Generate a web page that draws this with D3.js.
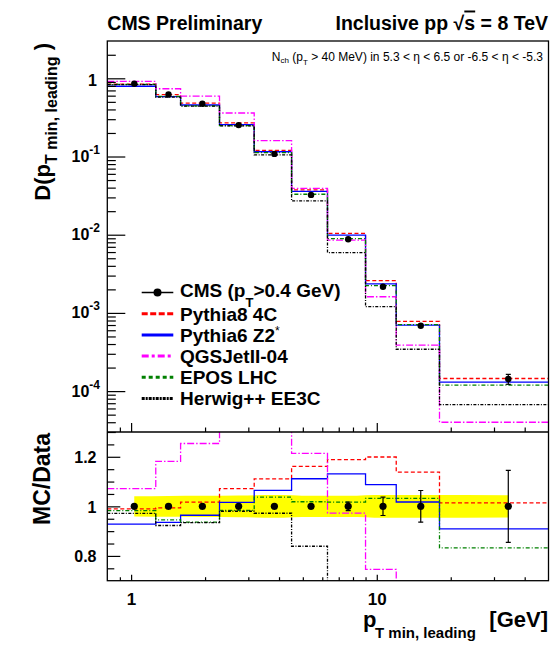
<!DOCTYPE html>
<html>
<head>
<meta charset="utf-8">
<script src="https://cdn.jsdelivr.net/npm/d3@7"></script>
<style>
  body { margin: 0; background: #fff; }
  svg { display: block; font-family: "Liberation Sans", Arial, sans-serif; font-weight: bold; }
</style>
</head>
<body>
<div id="chart"></div>
<script>
// bin edges of p_T min, leading [GeV]
const binEdges = [0.8, 1.26, 1.59, 2.29, 3.17, 4.5, 6.3, 9.0, 12.0, 18.0, 50];
// CMS data points
const dataX = [1.03, 1.42, 1.95, 2.74, 3.83, 5.40, 7.65, 10.6, 15.1, 34.3];
const dataY = [0.853, 0.622, 0.473, 0.252, 0.108, 0.0323, 0.00875, 0.00216, 6.86e-4, 1.43e-4];
const dataRelErr = [0.004, 0.004, 0.005, 0.006, 0.008, 0.010, 0.017, 0.037, 0.064, 0.145];
const systRelErr = [0.041, 0.042, 0.043, 0.044, 0.046, 0.043, 0.043, 0.046, 0.046, 0.045];

// MC predictions, one value per bin
const pythia8 = [0.844, 0.618, 0.481, 0.270, 0.120, 0.0375, 0.0104, 0.00259, 7.81e-4, 1.45e-4];
const pythia6 = [0.792, 0.582, 0.456, 0.256, 0.115, 0.0359, 0.00990, 0.00235, 6.98e-4, 1.30e-4];
const qgsjet = [0.914, 0.735, 0.593, 0.360, 0.160, 0.0392, 0.00851, 0.00161, 3.88e-4, 4.0e-5];
const epos = [0.838, 0.588, 0.443, 0.248, 0.112, 0.0329, 0.00890, 0.00223, 7.08e-4, 1.19e-4];
const herwig = [0.829, 0.574, 0.442, 0.247, 0.105, 0.0271, 0.00591, 0.00120, 3.43e-4, 6.72e-5];

const modelNames = ["Pythia8 4C", "Pythia6 Z2*", "QGSJetII-04", "EPOS LHC", "Herwig++ EE3C"];
const modelValues = [pythia8, pythia6, qgsjet, epos, herwig];

// axis ticks
const decadeTicks = [1, 1e-1, 1e-2, 1e-3, 1e-4];
const ratioTicks = [0.8, 1, 1.2];
const ratioMinor = [0.75, 0.85, 0.9, 0.95, 1.05, 1.1, 1.15, 1.25];
const xMajor = [1, 10];
const xMinor = [0.9, 2, 3, 4, 5, 6, 7, 8, 9, 20, 30, 40];

// line styles for the models
const styles = [
  { color: "#ff0000", dash: "4,2.5", legDash: "6,2.5" },
  { color: "#0000ff", dash: null, legDash: null },
  { color: "#ff00ff", dash: "7,2,1.5,2", legDash: "7,3,3,3" },
  { color: "#008000", dash: "4,2,1,2", legDash: "4,3" },
  { color: "#000000", dash: "3,1.5,1,1.5", legDash: "3,1,2,1" }
];

const W = 551, H = 645;
const fr = { left: 107.3, right: 548.5, top: 41, mid: 432, bottom: 580.7 };

const svg = d3.select("#chart").append("svg").attr("width", W).attr("height", H);

const x = d3.scaleLog().domain([0.8, 50]).range([fr.left, fr.right]);
const y = d3.scaleLog().domain([3e-5, 3]).range([fr.mid, fr.top]);
const yr = d3.scaleLinear().domain([0.7, 1.3]).range([fr.bottom, fr.mid]);

const defs = svg.append("defs");
defs.append("clipPath").attr("id", "clipTop").append("rect")
  .attr("x", fr.left).attr("y", fr.top).attr("width", fr.right - fr.left).attr("height", fr.mid - fr.top);
defs.append("clipPath").attr("id", "clipBot").append("rect")
  .attr("x", fr.left).attr("y", fr.mid).attr("width", fr.right - fr.left).attr("height", fr.bottom - fr.mid);

function stepPoints(vals) {
  const pts = [];
  vals.forEach((v, i) => { pts.push([binEdges[i], v]); pts.push([binEdges[i + 1], v]); });
  return pts;
}

// ---------- upper panel ----------
const upper = svg.append("g").attr("clip-path", "url(#clipTop)");
const lineTop = d3.line().x(d => x(d[0])).y(d => y(d[1]));
modelValues.forEach((vals, k) => {
  upper.append("path")
    .attr("d", lineTop(stepPoints(vals)))
    .attr("fill", "none")
    .attr("stroke", styles[k].color)
    .attr("stroke-width", 1.3)
    .attr("stroke-dasharray", styles[k].dash);
});

dataY.forEach((v, i) => {
  const y0 = y(v * (1 - dataRelErr[i])), y1 = y(v * (1 + dataRelErr[i]));
  upper.append("line").attr("x1", x(dataX[i])).attr("x2", x(dataX[i]))
    .attr("y1", y0).attr("y2", y1).attr("stroke", "#000").attr("stroke-width", 1.2);
  if (y0 - y1 > 7) {
    [y0, y1].forEach(yy => upper.append("line")
      .attr("x1", x(dataX[i]) - 2.5).attr("x2", x(dataX[i]) + 2.5)
      .attr("y1", yy).attr("y2", yy).attr("stroke", "#000").attr("stroke-width", 1.2));
  }
});
upper.selectAll("circle.pt").data(dataY).join("circle")
  .attr("cx", (d, i) => x(dataX[i])).attr("cy", d => y(d)).attr("r", 3.2).attr("fill", "#000");

// ---------- lower panel ----------
const lower = svg.append("g").attr("clip-path", "url(#clipBot)");
const band = d3.area()
  .x((d, i) => x(dataX[i]))
  .y0(d => yr(1 - d)).y1(d => yr(1 + d))
  .curve(d3.curveMonotoneX);
lower.append("path").attr("d", band(systRelErr)).attr("fill", "#ffff00");

const lineBot = d3.line().x(d => x(d[0])).y(d => yr(d[1]));
modelValues.forEach((vals, k) => {
  const ratios = vals.map((v, i) => v / dataY[i]);
  lower.append("path")
    .attr("d", lineBot(stepPoints(ratios)))
    .attr("fill", "none")
    .attr("stroke", styles[k].color)
    .attr("stroke-width", 1.3)
    .attr("stroke-dasharray", styles[k].dash);
});

dataRelErr.forEach((e, i) => {
  const y0 = yr(1 - e), y1 = yr(1 + e);
  lower.append("line").attr("x1", x(dataX[i])).attr("x2", x(dataX[i]))
    .attr("y1", y0).attr("y2", y1).attr("stroke", "#000").attr("stroke-width", 1.2);
  if (y0 - y1 > 7) {
    [y0, y1].forEach(yy => lower.append("line")
      .attr("x1", x(dataX[i]) - 2.5).attr("x2", x(dataX[i]) + 2.5)
      .attr("y1", yy).attr("y2", yy).attr("stroke", "#000").attr("stroke-width", 1.2));
  }
});
lower.selectAll("circle.pt").data(dataY).join("circle")
  .attr("cx", (d, i) => x(dataX[i])).attr("cy", yr(1)).attr("r", 3.6).attr("fill", "#000");

// ---------- axes ----------
function styleAxis(g) {
  g.select(".domain").remove();
  g.selectAll("line").attr("stroke", "#000").attr("stroke-width", 1.2);
  g.attr("font-family", null).attr("font-size", null);
}

// upper y axis: decade ticks and minor ticks
const yMinor = [];
for (let e = -5; e <= 0; e++) {
  for (let k = 2; k <= 9; k++) {
    const v = k * Math.pow(10, e);
    if (v > 3e-5 && v < 3) yMinor.push(v);
  }
}
svg.append("g").attr("transform", `translate(${fr.left},0)`)
  .call(d3.axisLeft(y).tickValues(decadeTicks).tickSize(-18).tickFormat(""))
  .call(styleAxis);
svg.append("g").attr("transform", `translate(${fr.left},0)`)
  .call(d3.axisLeft(y).tickValues(yMinor).tickSize(-8.5).tickFormat(""))
  .call(styleAxis);

const decLab = svg.append("g").attr("font-size", 16).attr("text-anchor", "end");
decadeTicks.forEach(v => {
  const e = Math.round(Math.log10(v));
  if (e === 0) {
    decLab.append("text").attr("x", 97).attr("y", y(v) + 8).text("1");
  } else {
    const t = decLab.append("text").attr("x", 100).attr("y", y(v) + 5.5);
    t.append("tspan").text("10");
    t.append("tspan").attr("font-size", 12).attr("dy", -8).text(String(e));
  }
});

// upper x axis (ticks only)
svg.append("g").attr("transform", `translate(0,${fr.mid})`)
  .call(d3.axisBottom(x).tickValues(xMajor).tickSize(-9).tickFormat(""))
  .call(styleAxis);
svg.append("g").attr("transform", `translate(0,${fr.mid})`)
  .call(d3.axisBottom(x).tickValues(xMinor).tickSize(-4.5).tickFormat(""))
  .call(styleAxis);

// lower y axis
svg.append("g").attr("transform", `translate(${fr.left},0)`)
  .call(d3.axisLeft(yr).tickValues(ratioTicks).tickSize(-13).tickPadding(10.8).tickFormat(d3.format("")))
  .call(styleAxis)
  .call(g => g.selectAll("text").attr("font-size", 16).attr("dy", "0.36em"));
svg.append("g").attr("transform", `translate(${fr.left},0)`)
  .call(d3.axisLeft(yr).tickValues(ratioMinor).tickSize(-7).tickFormat(""))
  .call(styleAxis);

// lower x axis
svg.append("g").attr("transform", `translate(0,${fr.bottom})`)
  .call(d3.axisBottom(x).tickValues(xMajor).tickSize(-6).tickPadding(12).tickFormat(d3.format("")))
  .call(styleAxis)
  .call(g => g.selectAll("text").attr("font-size", 17));
svg.append("g").attr("transform", `translate(0,${fr.bottom})`)
  .call(d3.axisBottom(x).tickValues(xMinor).tickSize(-3.5).tickFormat(""))
  .call(styleAxis);

// frames
svg.append("rect").attr("x", fr.left).attr("y", fr.top)
  .attr("width", fr.right - fr.left).attr("height", fr.bottom - fr.top)
  .attr("fill", "none").attr("stroke", "#000").attr("stroke-width", 1.3);
svg.append("line").attr("x1", fr.left).attr("x2", fr.right).attr("y1", fr.mid).attr("y2", fr.mid)
  .attr("stroke", "#000").attr("stroke-width", 1.3);

// ---------- titles ----------
svg.append("text").attr("x", fr.left).attr("y", 29.5).attr("font-size", 19.5).text("CMS Preliminary");
const tt = svg.append("text").attr("x", 548).attr("y", 29.5).attr("font-size", 19.5).attr("text-anchor", "end");
tt.append("tspan").text("Inclusive pp \u221A");
tt.append("tspan").attr("text-decoration", "overline").text("s");
tt.append("tspan").text(" = 8 TeV");

const sel = svg.append("text").attr("x", 543).attr("y", 61).attr("font-size", 12)
  .attr("font-weight", "normal").attr("text-anchor", "end");
sel.append("tspan").text("N");
sel.append("tspan").attr("font-size", 8).attr("dy", 2).text("ch");
sel.append("tspan").attr("dy", -2).text(" (p");
sel.append("tspan").attr("font-size", 8).attr("dy", 4).text("T");
sel.append("tspan").attr("dy", -4).text(" > 40 MeV) in 5.3 < \u03B7 < 6.5 or -6.5 < \u03B7 < -5.3");

// axis titles
const yt = svg.append("text").attr("transform", "translate(50,43) rotate(-90)")
  .attr("text-anchor", "end").attr("font-size", 22);
yt.append("tspan").text("D(p");
yt.append("tspan").attr("font-size", 16).attr("dy", 7).text("T min, leading");
yt.append("tspan").attr("dy", -7).text(" )");

svg.append("text").attr("transform", "translate(50,433) rotate(-90)")
  .attr("text-anchor", "end").attr("font-size", 23).text("MC/Data");

svg.append("text").attr("x", 363).attr("y", 627).attr("font-size", 22).text("p");
svg.append("text").attr("x", 375).attr("y", 638).attr("font-size", 15).text("T min, leading");
svg.append("text").attr("x", 548).attr("y", 627).attr("font-size", 22).attr("text-anchor", "end").text("[GeV]");

// ---------- legend ----------
const leg = svg.append("g");
const legX0 = 141.7, legX1 = 173.3, legText = 180, legTop = 292.5, legStep = 21.2;
leg.append("line").attr("x1", legX0).attr("x2", legX1).attr("y1", legTop).attr("y2", legTop)
  .attr("stroke", "#000").attr("stroke-width", 1.5);
leg.append("circle").attr("cx", (legX0 + legX1) / 2).attr("cy", legTop).attr("r", 4).attr("fill", "#000");
const cmsT = leg.append("text").attr("x", legText).attr("y", legTop + 4.5).attr("font-size", 19);
cmsT.append("tspan").text("CMS (p");
cmsT.append("tspan").attr("font-size", 13).attr("dy", 10).text("T");
cmsT.append("tspan").attr("dy", -10).text(">0.4 GeV)");

modelNames.forEach((name, k) => {
  const yy = legTop + (k + 1) * legStep;
  leg.append("line").attr("x1", legX0).attr("x2", legX1).attr("y1", yy).attr("y2", yy)
    .attr("stroke", styles[k].color).attr("stroke-width", 3)
    .attr("stroke-dasharray", styles[k].legDash);
  const t = leg.append("text").attr("x", legText).attr("y", yy + 6.8).attr("font-size", 19);
  if (name.endsWith("*")) {
    t.append("tspan").text(name.slice(0, -1));
    t.append("tspan").attr("font-size", 12).attr("dy", -7).attr("font-weight", "normal").text("*");
  } else {
    t.text(name);
  }
});
</script>
</body>
</html>
